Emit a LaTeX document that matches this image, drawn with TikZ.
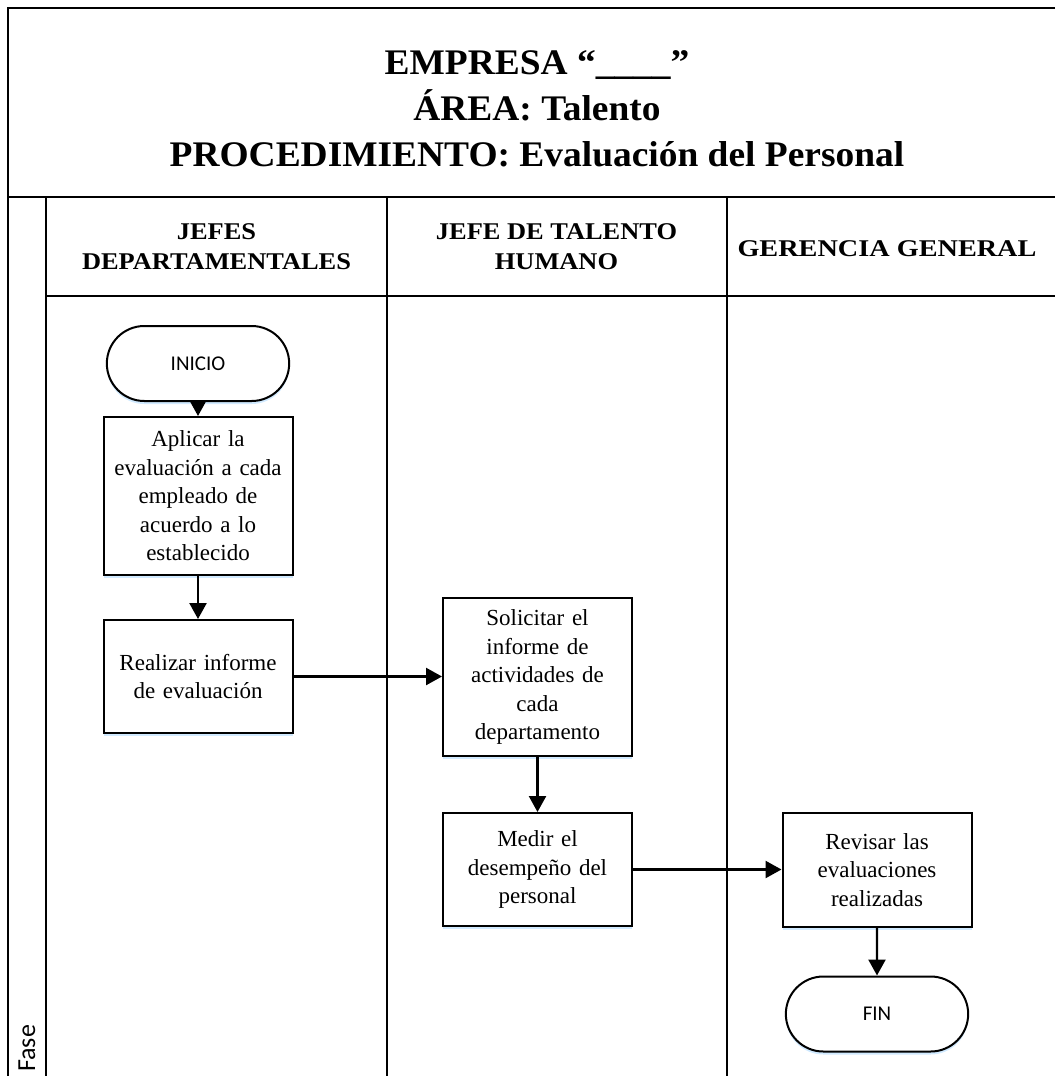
\documentclass[tikz,border=0pt]{standalone}
\usepackage{fontspec}
\setmainfont{Liberation Serif}
\newfontfamily\calib{Carlito}
\usetikzlibrary{arrows.meta,shadows,shapes.misc}
\begin{document}
\begin{tikzpicture}[x=1pt,y=-1pt,
  frame/.style={line width=2.2pt,black},
  boxsh/.style={drop shadow={shadow xshift=0pt,shadow yshift=-3pt,opacity=0.18,fill=blue!45!cyan}},
  procbox/.style={draw,line width=2pt,fill=white,minimum width=189pt,text width=184pt,align=center,
     font=\fontsize{23}{28.5}\selectfont,inner sep=0pt,boxsh},
  termbox/.style={draw,line width=2pt,fill=white,rounded rectangle,minimum width=189pt,minimum height=75pt,
     font=\calib\fontsize{21}{24}\selectfont,boxsh},
  hdr/.style={align=center,xscale=1.1,font=\bfseries\fontsize{24}{30}\selectfont},
  arr/.style={line width=2.4pt,-{Triangle[length=16pt,width=17pt]}}
]
\useasboundingbox (0,0) rectangle (1055,1076);
% frame lines
\draw[frame] (1055,8) -- (8,8) -- (8,1076);
\draw[frame] (8,197) -- (1055,197);
\draw[frame] (46,197) -- (46,1076);
\draw[frame] (46,296) -- (1055,296);
\draw[frame] (387,197) -- (387,1076);
\draw[frame] (727,197) -- (727,1076);
% title
\node[align=center,xscale=1.04,font=\bfseries\fontsize{36}{46}\selectfont] (title) at (537,109)
 {EMPRESA “\_\_\_\_”\\ÁREA: Talento\\PROCEDIMIENTO: Evaluación del Personal};
% headers
\node[hdr] (h1) at (216.5,246.5) {JEFES\\DEPARTAMENTALES};
\node[hdr] (h2) at (556.5,246.5) {JEFE DE TALENTO\\HUMANO};
\node[hdr,xscale=1.07] (h3) at (887,249) {GERENCIA GENERAL};
% fase
\node[rotate=90,anchor=west,inner sep=0pt,font=\calib\fontsize{26}{30}\selectfont] (fase) at (27,1072) {Fase};
% nodes
\node[termbox] (inicio) at (198,363.5) {INICIO};
\node[procbox,minimum height=158pt] (aplicar) at (198,496) {Aplicar la\\evaluación a cada\\empleado de\\acuerdo a lo\\establecido};
\node[procbox,minimum height=113pt] (realizar) at (198,676.5) {Realizar informe\\de evaluación};
\node[procbox,minimum height=158pt] (solicitar) at (537.5,677) {Solicitar el\\informe de\\actividades de\\cada\\departamento};
\node[procbox,minimum height=113pt] (medir) at (537.5,869.5) {Medir el\\desempeño del\\personal};
\node[procbox,minimum height=114pt] (revisar) at (877,870) {Revisar las\\evaluaciones\\realizadas};
\node[termbox] (fin) at (877,1014) {FIN};
% connectors
\draw[arr] (inicio) -- (aplicar);
\draw[arr] (aplicar) -- (realizar);
\draw[arr] (realizar.east) -- (realizar.east -| solicitar.west);
\draw[arr] (solicitar) -- (medir);
\draw[arr] (medir.east) -- (medir.east -| revisar.west);
\draw[arr] (revisar) -- (fin);
\end{tikzpicture}
\end{document}
